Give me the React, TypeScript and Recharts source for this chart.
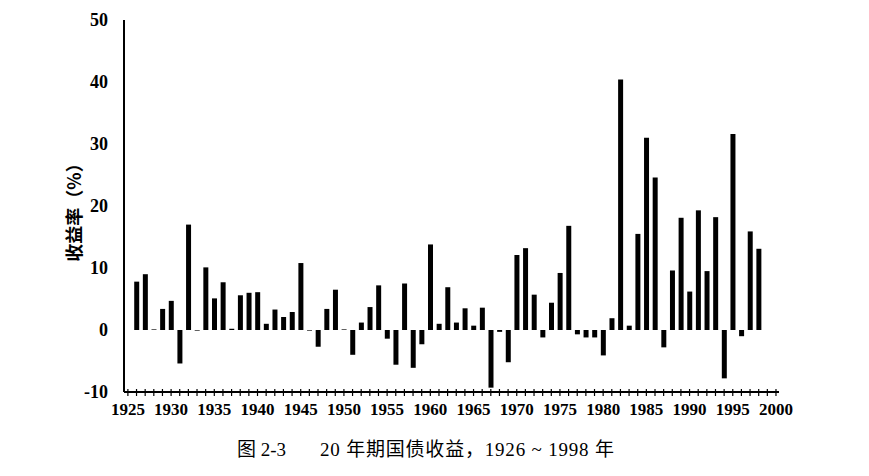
import React from 'react';
import { BarChart, Bar, XAxis, YAxis } from 'recharts';

const years = [
  1926, 1927, 1928, 1929, 1930, 1931, 1932, 1933, 1934, 1935,
  1936, 1937, 1938, 1939, 1940, 1941, 1942, 1943, 1944, 1945,
  1946, 1947, 1948, 1949, 1950, 1951, 1952, 1953, 1954, 1955,
  1956, 1957, 1958, 1959, 1960, 1961, 1962, 1963, 1964, 1965,
  1966, 1967, 1968, 1969, 1970, 1971, 1972, 1973, 1974, 1975,
  1976, 1977, 1978, 1979, 1980, 1981, 1982, 1983, 1984, 1985,
  1986, 1987, 1988, 1989, 1990, 1991, 1992, 1993, 1994, 1995,
  1996, 1997, 1998,
];

const returns = [
  7.8, 9.0, 0.1, 3.4, 4.7, -5.4, 17.0, -0.1, 10.1, 5.1,
  7.7, 0.2, 5.6, 6.0, 6.1, 1.0, 3.3, 2.1, 2.9, 10.8,
  -0.1, -2.7, 3.4, 6.5, 0.1, -4.0, 1.2, 3.7, 7.2, -1.4,
  -5.6, 7.5, -6.1, -2.3, 13.8, 1.0, 6.9, 1.2, 3.5, 0.7,
  3.6, -9.3, -0.3, -5.2, 12.1, 13.2, 5.7, -1.2, 4.4, 9.2,
  16.8, -0.7, -1.2, -1.2, -4.1, 1.9, 40.4, 0.7, 15.5, 31.0,
  24.6, -2.8, 9.6, 18.1, 6.2, 19.3, 9.5, 18.2, -7.8, 31.6,
  -1.0, 15.9, 13.1,
];

const yTicks = [-10, 0, 10, 20, 30, 40, 50];
const xTicks = Array.from({ length: 76 }, (_, i) => 1925 + i);
const yTitle = '收益率（%）';
const captionFig = '图 2-3';
const captionText = '20 年期国债收益，1926 ~ 1998 年';

const data = years.map((y, i) => ({ year: y, ret: returns[i] }));

const serif = '"Liberation Serif", "Times New Roman", serif';

const XTick = (props: any) => {
  const { x, y, payload } = props;
  const v = payload.value;
  return (
    <g>
      <line x1={x} x2={x} y1={y - 3} y2={y + 4} stroke="#000" strokeWidth={1.2} />
      {v % 5 === 0 && (
        <text x={x} y={y + 23} textAnchor="middle" fontFamily={serif} fontWeight="bold" fontSize={17} fill="#000">
          {v}
        </text>
      )}
    </g>
  );
};

const YTick = (props: any) => {
  const { x, y, payload } = props;
  return (
    <text x={x - 16} y={y + 6} textAnchor="end" fontFamily={serif} fontWeight="bold" fontSize={18} fill="#000">
      {payload.value}
    </text>
  );
};

export default function App() {
  return (
    <div style={{ position: 'relative', width: 869, height: 476, margin: -8, background: '#fff' }}>
      <BarChart
        width={869}
        height={476}
        data={data}
        margin={{ top: 20, right: 90, bottom: 54, left: 64 }}
      >
        <XAxis
          dataKey="year"
          type="number"
          domain={[1924.55, 2000.35]}
          ticks={xTicks}
          interval={0}
          tick={<XTick />}
          tickSize={0}
          tickMargin={0}
          tickLine={false}
          axisLine={{ stroke: '#000', strokeWidth: 2 }}
          height={30}
          allowDataOverflow
        />
        <YAxis
          domain={[-10, 50]}
          ticks={yTicks}
          interval={0}
          tick={<YTick />}
          tickSize={0}
          tickMargin={0}
          tickLine={false}
          axisLine={{ stroke: '#000', strokeWidth: 2 }}
          width={60}
          allowDataOverflow
          label={{
            content: () => (
              <text
                transform="translate(81,208) rotate(-90)"
                textAnchor="middle"
                fontFamily='"Noto Sans CJK SC", sans-serif'
                fontWeight="bold"
                fontSize={18}
                fill="#000"
              >
                {yTitle}
              </text>
            ),
          }}
        />
        <Bar dataKey="ret" fill="#000" barSize={5} isAnimationActive={false} />
      </BarChart>
      <div
        style={{
          position: 'absolute',
          left: 237,
          top: 439,
          fontFamily: '"Liberation Serif", "Noto Sans CJK SC", serif',
          fontSize: 19,
          color: '#000',
          whiteSpace: 'pre',
          lineHeight: '22px',
        }}
      >
        {captionFig}
      </div>
      <div
        style={{
          position: 'absolute',
          left: 320,
          top: 439,
          fontFamily: '"Liberation Serif", "Noto Sans CJK SC", serif',
          fontSize: 19,
          letterSpacing: 0.8,
          color: '#000',
          whiteSpace: 'pre',
          lineHeight: '22px',
        }}
      >
        {captionText}
      </div>
    </div>
  );
}
